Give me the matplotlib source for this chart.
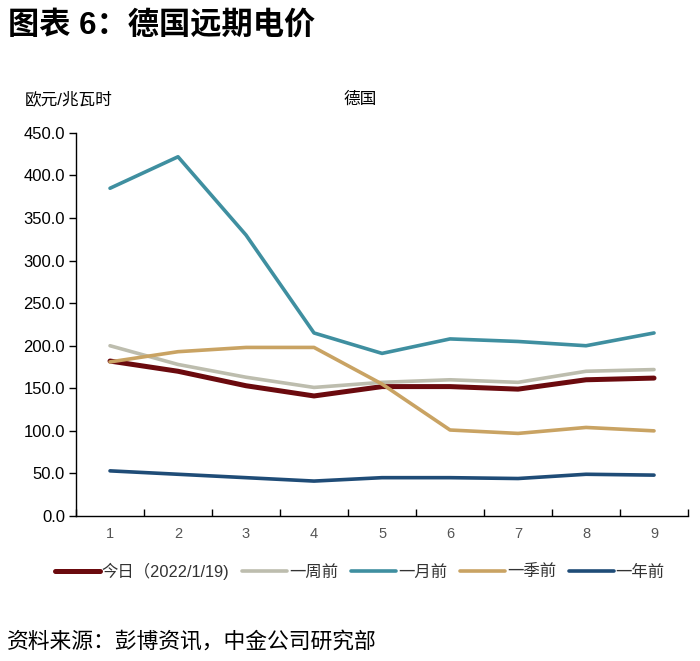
import matplotlib
matplotlib.use("Agg")
import matplotlib.pyplot as plt

plt.rcParams['font.family'] = ['Liberation Sans', 'Noto Sans CJK SC']

categories = [1, 2, 3, 4, 5, 6, 7, 8, 9]
today = [182, 170, 153, 141, 152, 152, 149, 160, 162]
week_ago = [200, 178, 163, 151, 157, 160, 157, 170, 172]
month_ago = [385, 422, 330, 215, 191, 208, 205, 200, 215]
quarter_ago = [181, 193, 198, 198, 155, 101, 97, 104, 100]
year_ago = [53, 49, 45, 41, 45, 45, 44, 49, 48]

series = [
    ("今日（2022/1/19)", today, "#6B0A0E", 3.6),
    ("一周前", week_ago, "#BDBDAE", 2.6),
    ("一月前", month_ago, "#3F8FA0", 2.6),
    ("一季前", quarter_ago, "#C9A363", 2.6),
    ("一年前", year_ago, "#1F4C77", 2.6),
]

fig = plt.figure(figsize=(7.0, 6.61), dpi=100)
ax = fig.add_axes([0.1086, 0.2194, 0.8743, 0.5795])

x = list(range(len(categories)))
for label, vals, color, lw in series:
    ax.plot(x, vals, color=color, lw=lw, label=label, solid_capstyle='round', solid_joinstyle='round')

ax.set_ylim(0, 450)
yt = [0, 50, 100, 150, 200, 250, 300, 350, 400, 450]
ax.set_yticks(yt)
ax.set_yticklabels([f"{v:.1f}" for v in yt])
ax.set_xlim(-0.5, len(categories) - 0.5)
ax.set_xticks(x)
ax.set_xticklabels([str(c) for c in categories], color="#555555")
ax.set_xticks([i - 0.5 for i in range(len(categories) + 1)], minor=True)
ax.tick_params(axis='x', which='major', length=0, pad=8, labelsize=10.5)
ax.tick_params(axis='x', which='minor', direction='in', length=5, width=1)
ax.tick_params(axis='y', direction='out', length=5, width=1, labelsize=12, pad=3)
for s in ['top', 'right']:
    ax.spines[s].set_visible(False)
for s in ['left', 'bottom']:
    ax.spines[s].set_linewidth(1.0)

fig.text(0.011, 0.961, "图表 6：德国远期电价", fontsize=22.5, fontweight='bold', va='center', ha='left')
fig.text(0.036, 0.850, "欧元/兆瓦时", fontsize=12, va='center', ha='left')
fig.text(0.490, 0.850, "德国", fontsize=12, va='center', ha='left')
fig.text(0.010, 0.029, "资料来源：彭博资讯，中金公司研究部", fontsize=15.7, va='center', ha='left')

leg = fig.legend(loc='center', bbox_to_anchor=(0.514, 0.136), ncol=5, frameon=False,
                 fontsize=11.8, handlelength=2.75, handletextpad=0.1, columnspacing=0.8)
for t in leg.get_texts():
    t.set_color("#333333")

fig.savefig("out.png", dpi=100)
